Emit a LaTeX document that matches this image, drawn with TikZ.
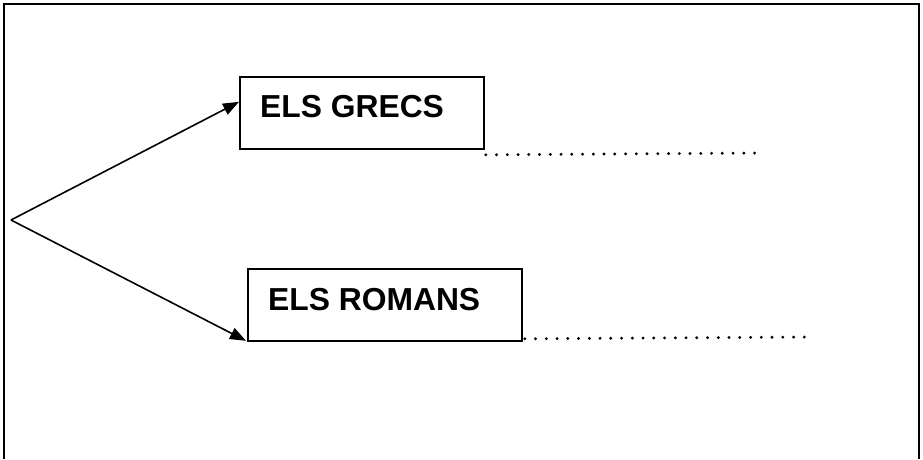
\documentclass[tikz,border=0pt]{standalone}
\usepackage{fontspec}
\setmainfont{Liberation Sans}
\usetikzlibrary{arrows.meta,calc}
\begin{document}
\begin{tikzpicture}[x=1pt,y=-1pt,
  framebox/.style={draw,line width=2pt},
  itembox/.style={draw,line width=1.8pt,rectangle,inner sep=0pt,anchor=north west},
  itemtext/.style={anchor=base west,inner sep=0pt,font=\fontsize{31.8}{36}\selectfont\bfseries},
  conn/.style={line width=1.6pt,-{Triangle[length=16pt,width=12pt]}},
  dotline/.style={line width=3.2pt,line cap=round,dash pattern=on 0pt off 10.75pt}]
\useasboundingbox (0,0) rectangle (923,459);
\fill[white] (0,0) rectangle (923,459);
\draw[framebox] (3.5,459) -- (3.5,4) -- (919,4) -- (919,459);
% boxes
\node[itembox,minimum width=244pt,minimum height=72pt] (gbox) at (239,76) {};
\node[itemtext] (gtext) at (260,117) {ELS GRECS};
\node[itembox,minimum width=274pt,minimum height=72pt] (rbox) at (247,268) {};
\node[itemtext] (rtext) at (268,310) {ELS ROMANS};
% fork
\coordinate (fork) at (11,220);
\draw[conn] (fork) -- ($(gbox.north west)!0.35!(gbox.south west)$);
\draw[conn] (fork) -- ($(rbox.south west)+(-1,-1)$);
% dotted lines
\coordinate (gend) at (763,153);
\coordinate (rend) at (812,337);
\draw[dotline] ($(gbox.south east)+(1,5)$) -- (gend);
\draw[dotline] ($(rbox.south east)+(2,-3)$) -- (rend);
\end{tikzpicture}
\end{document}
